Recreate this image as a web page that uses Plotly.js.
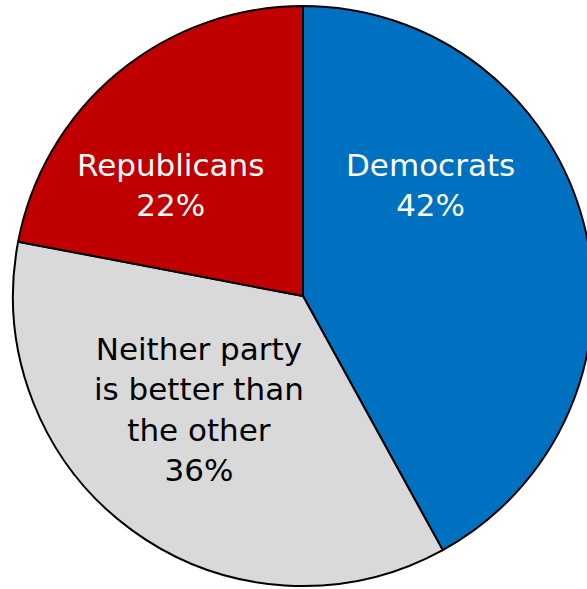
<!DOCTYPE html>
<html><head><meta charset="utf-8">
<script src="https://cdn.plot.ly/plotly-3.0.1.min.js"></script>
<style>html,body{margin:0;padding:0;overflow:hidden;background:#fff;width:587px;height:589px}#c{width:606px;height:592px}</style>
</head><body><div id="c"></div>
<script>
const labels = ["Democrats", "Neither party<br>is better than<br>the other", "Republicans"];
const values = [42, 36, 22];
const colors = ["#0070C0", "#D9D9D9", "#C00000"];
const textColors = ["#FFFFFF", "#000000", "#FFFFFF"];
const labelPos = [[430, 185], [199, 409], [171, 185]];

const W = 606, H = 592;
const annotations = labels.map((l, i) => ({
  text: l + "<br>" + values[i] + "%",
  x: labelPos[i][0] / W, y: 1 - labelPos[i][1] / H,
  xref: "paper", yref: "paper", showarrow: false,
  xanchor: "center", yanchor: "middle",
  font: {family: "DejaVu Sans", size: 31, color: textColors[i]}
}));

Plotly.newPlot("c", [{
  type: "pie", labels: labels, values: values, sort: false, direction: "clockwise",
  rotation: 0, marker: {colors: colors, line: {color: "#000", width: 2}},
  textinfo: "none", hoverinfo: "none",
  domain: {x: [0, 1], y: [6 / H, 1 - 6 / H]}
}], {
  width: W, height: H, margin: {l: 0, r: 0, t: 0, b: 0}, showlegend: false,
  paper_bgcolor: "#fff", annotations: annotations
}, {staticPlot: true});
</script></body></html>
